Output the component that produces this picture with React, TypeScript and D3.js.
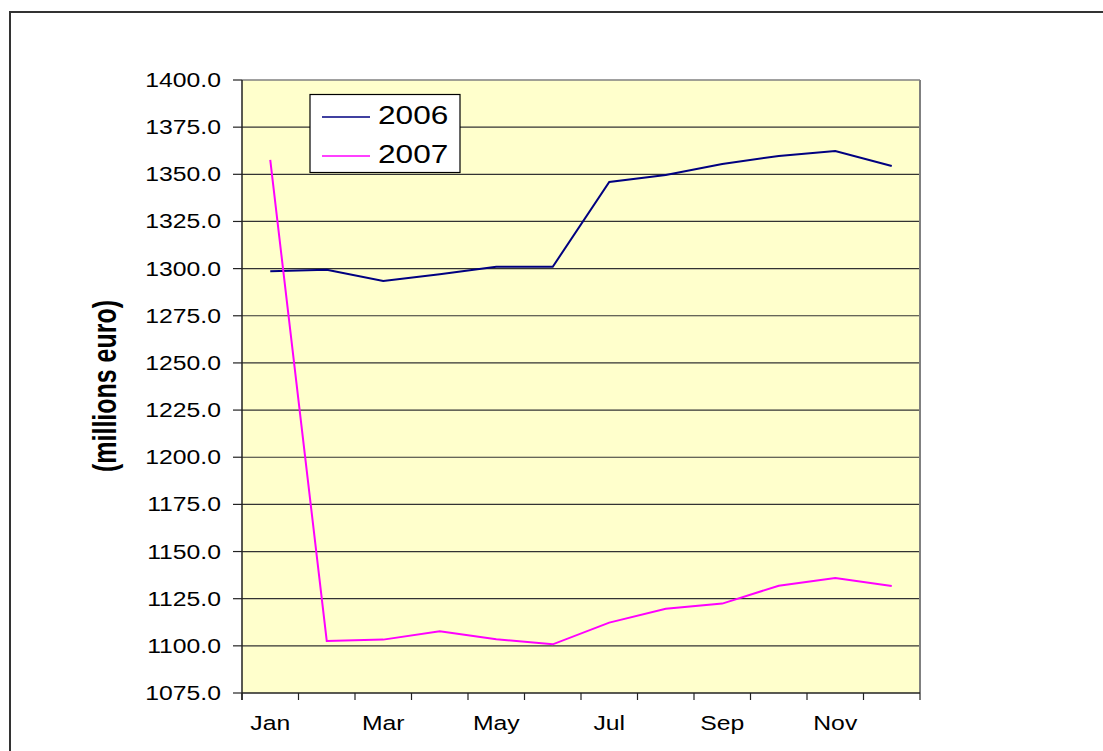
import * as d3 from 'd3';

const months = ['Jan', 'Feb', 'Mar', 'Apr', 'May', 'Jun', 'Jul', 'Aug', 'Sep', 'Oct', 'Nov', 'Dec'];
const monthLabels = ['Jan', 'Mar', 'May', 'Jul', 'Sep', 'Nov'];
const values2006 = [1298.6, 1299.4, 1293.4, 1297.0, 1301.0, 1301.0, 1345.9, 1349.6, 1355.5, 1359.7, 1362.4, 1354.4];
const values2007 = [1357.6, 1102.6, 1103.3, 1107.7, 1103.5, 1100.8, 1112.3, 1119.7, 1122.4, 1131.9, 1135.9, 1131.7];
const yTicks = [1075, 1100, 1125, 1150, 1175, 1200, 1225, 1250, 1275, 1300, 1325, 1350, 1375, 1400];

const series = [
  { name: '2006', values: values2006, color: '#000080' },
  { name: '2007', values: values2007, color: '#FF00FF' },
];

const W = 1103;
const H = 751;
const left = 242;
const right = 920;
const top = 80;
const bottom = 693;
const SX = 1.27; // the original picture is stretched sideways
const FONT = '"Liberation Sans", Arial, sans-serif';

export default function App() {
  const x = d3.scaleBand<string>().domain(months).range([left, right]);
  const y = d3.scaleLinear().domain([1075, 1400]).range([bottom, top]);

  const line = d3
    .line<number>()
    .x((_, i) => (x(months[i]) ?? 0) + x.bandwidth() / 2)
    .y((d) => y(d));

  const bandEdges = months.map((m) => x(m) ?? 0).concat([right]);

  return (
    <svg
      width={W}
      height={H}
      style={{ position: 'absolute', left: 0, top: 0, display: 'block' }}
      fontFamily={FONT}
    >
      <rect x={0} y={0} width={W} height={H} fill="#fff" />
      {/* outer chart border, runs off the page to the right and bottom */}
      <rect x={10} y={12} width={1200} height={1000} fill="none" stroke="#333" strokeWidth={2} />

      {/* plot area */}
      <rect x={left} y={top} width={right - left} height={bottom - top} fill="#FFFFCC" />

      {/* gridlines */}
      {yTicks
        .filter((t) => t !== 1075 && t !== 1400)
        .map((t) => (
          <line key={t} x1={left} x2={right} y1={y(t)} y2={y(t)} stroke="#333" strokeWidth={1.2} />
        ))}

      {/* plot border: top and right gray */}
      <line x1={left} x2={right} y1={top} y2={top} stroke="#808080" strokeWidth={1.5} />
      <line x1={right} x2={right} y1={top} y2={bottom} stroke="#808080" strokeWidth={2} />

      {/* axes */}
      <line x1={left} x2={left} y1={top} y2={bottom + 7} stroke="#222" strokeWidth={1.5} />
      <line x1={left} x2={right} y1={bottom} y2={bottom} stroke="#222" strokeWidth={1.5} />

      {yTicks.map((t) => (
        <g key={t}>
          <line x1={left - 9} x2={left} y1={y(t)} y2={y(t)} stroke="#222" strokeWidth={1.2} />
          <g transform={`translate(221,${y(t) + 7}) scale(${SX},1)`}>
            <text textAnchor="end" fontSize={19.5} fill="#000">
              {t.toFixed(1)}
            </text>
          </g>
        </g>
      ))}

      {bandEdges.map((e, i) => (
        <line key={i} x1={e} x2={e} y1={bottom} y2={bottom + 7} stroke="#222" strokeWidth={1.2} />
      ))}

      {monthLabels.map((m) => (
        <g key={m} transform={`translate(${(x(m) ?? 0) + x.bandwidth() / 2},730) scale(${SX},1)`}>
          <text textAnchor="middle" fontSize={19.5} fill="#000">
            {m}
          </text>
        </g>
      ))}

      {/* y axis title */}
      <g transform={`translate(116,386) scale(${SX},1) rotate(-90)`}>
        <text textAnchor="middle" fontSize={26} fontWeight="bold" textLength={172} lengthAdjust="spacingAndGlyphs" fill="#000">
          (millions euro)
        </text>
      </g>

      {/* series lines */}
      {series.map((s) => (
        <path key={s.name} d={line(s.values) ?? ''} fill="none" stroke={s.color} strokeWidth={2} strokeLinejoin="miter" />
      ))}

      {/* legend */}
      <rect x={310} y={94.5} width={150} height={78} fill="#fff" stroke="#000" strokeWidth={1.2} />
      {series.map((s, i) => (
        <g key={s.name}>
          <line x1={322} x2={370} y1={117 + i * 39} y2={117 + i * 39} stroke={s.color} strokeWidth={1.5} />
          <g transform={`translate(378,${124 + i * 39}) scale(1.24,1)`}>
            <text fontSize={25.5} fill="#000">
              {s.name}
            </text>
          </g>
        </g>
      ))}
    </svg>
  );
}
